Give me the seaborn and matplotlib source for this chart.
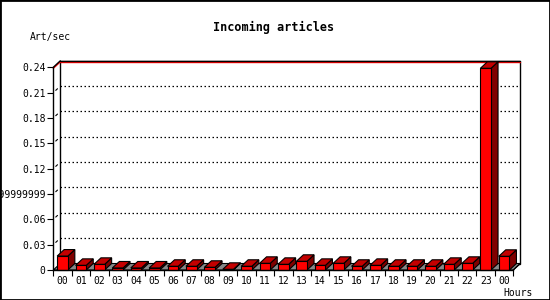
import matplotlib
matplotlib.use("Agg")
import matplotlib.pyplot as plt
import seaborn as sns
import numpy as np
from matplotlib.patches import Polygon, Rectangle

# ---- data ----
hours = ["00", "01", "02", "03", "04", "05", "06", "07", "08", "09", "10", "11",
         "12", "13", "14", "15", "16", "17", "18", "19", "20", "21", "22", "23", "00"]
rates = [0.0165, 0.0055, 0.0067, 0.0024, 0.0024, 0.0024, 0.0044, 0.0044, 0.0032,
         0.0008, 0.0044, 0.0079, 0.0067, 0.0103, 0.0055, 0.0079, 0.0044, 0.0055,
         0.0044, 0.0044, 0.0044, 0.0067, 0.0079, 0.2388, 0.0162]
ytick_vals = [0, 0.03, 0.06, 0.09, 0.12, 0.15, 0.18, 0.21, 0.24]
ytick_labels = ["0", "0.03", "0.06", "0.0899999999", "0.12", "0.15", "0.18", "0.21", "0.24"]
title = "Incoming articles"
ylabel = "Art/sec"
xlabel = "Hours"

sns.set_theme(style="white")
mono = "DejaVu Sans Mono"
plt.rcParams["font.family"] = [mono]

W, H = 550, 300
fig = plt.figure(figsize=(W / 100, H / 100), dpi=100)
fig.patch.set_facecolor("white")
x0, x1 = 53.3, 513.3
ytop, ybot = 67.3, 270.0
ax = fig.add_axes([x0 / W, 1 - ybot / H, (x1 - x0) / W, (ybot - ytop) / H])
ax.set_facecolor("none")

n = len(rates)
ymax = 0.24
ax.set_xlim(-0.5, n - 0.5)
ax.set_ylim(0, ymax)

# depth offset in data units (7px right, 6.5px up)
px_x = (x1 - x0) / n
px_y = (ybot - ytop) / ymax
dx = 7.0 / px_x
dy = 6.5 / px_y

# back plane
ax.add_patch(Rectangle((-0.5 + dx, dy), n, ymax, facecolor="white",
                       edgecolor="black", lw=1.0, zorder=0.5, clip_on=False))
# red line just under top edge
ax.plot([-0.5 + dx, n - 0.5 + dx], [ymax + dy - 1.2 / px_y] * 2, color="red",
        lw=1.0, zorder=0.55, clip_on=False)
ax.plot([-0.5 + dx, n - 0.5 + dx], [ymax + dy] * 2, color="black",
        lw=1.0, zorder=0.56, clip_on=False)
# diagonal at top left
ax.plot([-0.5, -0.5 + dx], [ymax - 1.0 / px_y, ymax + dy - 1.0 / px_y], color="red",
        lw=1.0, zorder=0.55, clip_on=False)
ax.plot([-0.5, -0.5 + dx], [ymax, ymax + dy], color="black",
        lw=1.0, zorder=0.56, clip_on=False)
# dotted gridlines on back plane + tiny diagonal marks
for v in ytick_vals[1:-1]:
    ax.plot([-0.5 + dx, n - 0.5 + dx], [v + dy, v + dy], color="black",
            lw=0.9, ls=(0, (1.2, 2.0)), zorder=0.6, clip_on=False)
    ax.plot([-0.5 + 0.35 * dx, -0.5 + 0.6 * dx], [v + 0.35 * dy, v + 0.6 * dy],
            color="black", lw=0.8, zorder=0.6, clip_on=False)

# floor
ax.add_patch(Polygon([(-0.5, 0), (n - 0.5, 0), (n - 0.5 + dx, dy), (-0.5 + dx, dy)],
                     closed=True, facecolor="#888888", edgecolor="black", lw=0.8,
                     zorder=0.7, clip_on=False))

# front faces
sns.barplot(x=list(range(n)), y=rates, color="#ff0000", saturation=1,
            edgecolor="black", linewidth=0.8, width=0.58, ax=ax, zorder=2)

for p in ax.patches:
    if not isinstance(p, Rectangle) or p.get_facecolor()[1] > 0.1:
        continue
    bx, bw, bh = p.get_x(), p.get_width(), p.get_height()
    if bh <= 0:
        continue
    top = Polygon([(bx, bh), (bx + bw, bh), (bx + bw + dx, bh + dy), (bx + dx, bh + dy)],
                  closed=True, facecolor="#c40000", edgecolor="black", lw=0.8,
                  zorder=1.5, clip_on=False)
    side = Polygon([(bx + bw, 0), (bx + bw + dx, dy), (bx + bw + dx, bh + dy), (bx + bw, bh)],
                   closed=True, facecolor="#800000", edgecolor="black", lw=0.8,
                   zorder=1.5, clip_on=False)
    ax.add_patch(side)
    ax.add_patch(top)
    p.set_clip_on(False)

# right edge diagonal of plane
ax.plot([n - 0.5, n - 0.5 + dx], [0, dy], color="black", lw=0.8, zorder=0.8, clip_on=False)

# spines
for s in ["top", "right"]:
    ax.spines[s].set_visible(False)
for s in ["left", "bottom"]:
    ax.spines[s].set_color("black")
    ax.spines[s].set_linewidth(1.0)
    ax.spines[s].set_zorder(3)

ax.set_yticks(ytick_vals)
ax.set_yticklabels(ytick_labels, fontsize=7, family=mono)
ax.set_xticks(range(n))
ax.set_xticklabels(hours, fontsize=7, family=mono)
ax.set_xticks(np.arange(-0.5, n, 1.0), minor=True)
ax.tick_params(axis="y", which="major", length=4.3, width=0.8, color="black",
               direction="out", pad=1.2, left=True, colors="black")
ax.tick_params(axis="x", which="major", length=0, pad=4.0, colors="black")
ax.tick_params(axis="x", which="minor", length=4, width=0.8, color="black",
               direction="out", bottom=True)
ax.set_xlabel("")
ax.set_ylabel("")

fig.text(274 / W, 1 - 27 / H, title, ha="center", va="center", fontsize=8.5,
         fontweight="bold", family=mono, color="black")
fig.text(30 / W, 1 - 37 / H, ylabel, ha="left", va="center", fontsize=7,
         family=mono, color="black")
fig.text(503 / W, 1 - 293 / H, xlabel, ha="left", va="center", fontsize=7,
         family=mono, color="black")

fig.patches.append(Rectangle((0, 0), 1, 1, transform=fig.transFigure, fill=False,
                             edgecolor="black", lw=2, zorder=10))

fig.savefig("out.png", dpi=100)
